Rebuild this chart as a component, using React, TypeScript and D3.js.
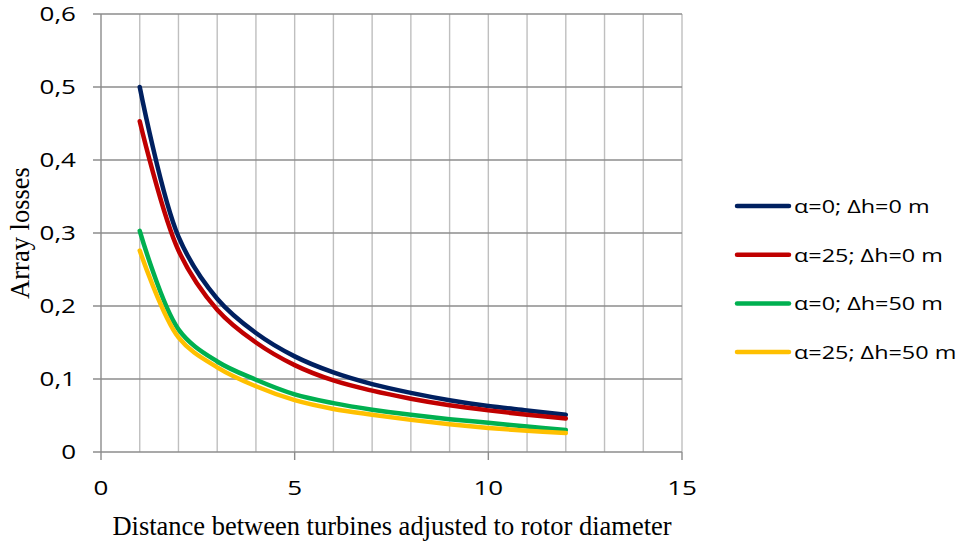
import React from "react";
import * as d3 from "d3";

const distances = [1, 2, 3, 4, 5, 6, 7, 8, 9, 10, 11, 12];
const seriesNames = ["α=0; Δh=0 m", "α=25; Δh=0 m", "α=0; Δh=50 m", "α=25; Δh=50 m"];
const seriesColors = ["#002060", "#C00000", "#00B050", "#FFC000"];
const blueLoss = [0.5, 0.295, 0.21, 0.163, 0.131, 0.109, 0.093, 0.081, 0.071, 0.063, 0.057, 0.051];
const redLoss = [0.453, 0.276, 0.195, 0.15, 0.119, 0.098, 0.084, 0.073, 0.064, 0.057, 0.051, 0.046];
const greenLoss = [0.303, 0.168, 0.124, 0.099, 0.079, 0.067, 0.058, 0.051, 0.045, 0.04, 0.035, 0.03];
const yellowLoss = [0.276, 0.157, 0.116, 0.09, 0.071, 0.059, 0.051, 0.044, 0.038, 0.033, 0.029, 0.026];
const xTicks = [0, 5, 10, 15];
const yTicks = [0, 0.1, 0.2, 0.3, 0.4, 0.5, 0.6];

const W = 968, H = 545;
const left = 101, right = 682, top = 14, bottom = 452;
const sx = 1.3; // text in the original is stretched horizontally
const sans = "'Open Sans', sans-serif";
const serif = "'Liberation Serif', 'Times New Roman', serif";

export default function App() {
  const x = d3.scaleLinear().domain([0, 15]).range([left, right]);
  const y = d3.scaleLinear().domain([0, 0.6]).range([bottom, top]);
  const allSeries = [blueLoss, redLoss, greenLoss, yellowLoss];

  const line = d3.line<number>()
    .x((d, i) => x(distances[i]))
    .y(d => y(d))
    .curve(d3.curveCatmullRom.alpha(0.5));

  const minorX = d3.range(1, 16);

  return (
    <svg width={W} height={H} style={{ position: "absolute", left: 0, top: 0, background: "#fff" }}>
      {/* vertical grid */}
      {minorX.map(v => (
        <line key={"vx" + v} x1={x(v)} x2={x(v)} y1={top} y2={bottom} stroke="#bfbfbf" strokeWidth={1.4} />
      ))}
      {/* horizontal grid + y ticks */}
      {yTicks.map(v => (
        <line key={"hy" + v} x1={left - 8} x2={right} y1={y(v)} y2={y(v)} stroke="#8c8c8c" strokeWidth={1.4} />
      ))}
      {/* axes */}
      <line x1={left} x2={left} y1={top} y2={bottom} stroke="#8c8c8c" strokeWidth={1.4} />
      {xTicks.map(v => (
        <line key={"xt" + v} x1={x(v)} x2={x(v)} y1={bottom} y2={bottom + 8} stroke="#8c8c8c" strokeWidth={1.4} />
      ))}

      {/* curves */}
      {allSeries.map((s, i) => (
        <path key={"s" + i} d={line(s) || ""} fill="none" stroke={seriesColors[i]} strokeWidth={4.5}
          strokeLinecap="round" strokeLinejoin="round" />
      ))}

      {/* y tick labels */}
      {yTicks.map(v => (
        <text key={"yl" + v} transform={`translate(${left - 25},${y(v) + 7}) scale(${sx},1)`}
          textAnchor="end" fontFamily={sans} fontSize={20} fill="#000">
          {String(Math.round(v * 10) / 10).replace(".", ",")}
        </text>
      ))}
      {/* x tick labels */}
      {xTicks.map(v => (
        <text key={"xl" + v} transform={`translate(${x(v)},${bottom + 43}) scale(${sx},1)`}
          textAnchor="middle" fontFamily={sans} fontSize={20} fill="#000">
          {v}
        </text>
      ))}

      {/* axis titles */}
      <text transform={`translate(392,535)`} textAnchor="middle" fontFamily={serif} fontSize={26.5} fill="#000">
        Distance between turbines adjusted to rotor diameter
      </text>
      <text transform={`translate(29,233) rotate(-90)`} textAnchor="middle" fontFamily={serif} fontSize={26.5} fill="#000">
        Array losses
      </text>

      {/* legend */}
      {seriesNames.map((n, i) => {
        const ly = 206 + i * 48.7;
        return (
          <g key={"lg" + i}>
            <line x1={737} x2={789} y1={ly} y2={ly} stroke={seriesColors[i]} strokeWidth={4.5} strokeLinecap="round" />
            <text transform={`translate(794,${ly + 7}) scale(${sx},1)`} fontFamily={sans} fontSize={18} fill="#000">
              {n}
            </text>
          </g>
        );
      })}
    </svg>
  );
}
